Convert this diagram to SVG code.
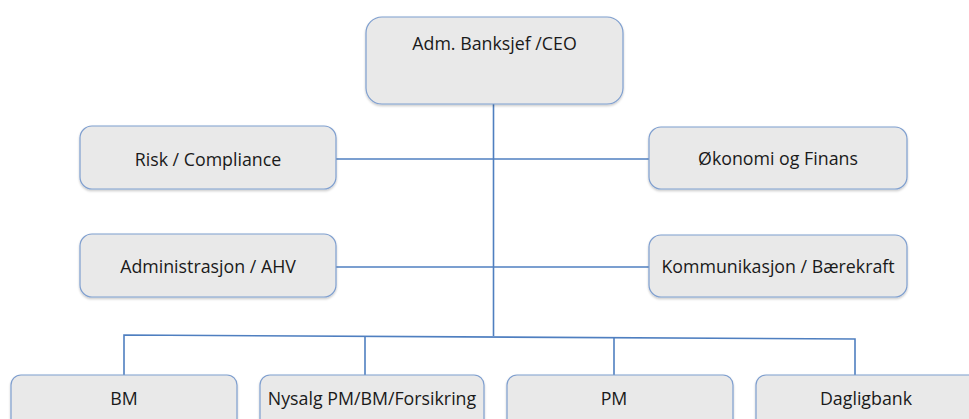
<svg xmlns="http://www.w3.org/2000/svg" width="969" height="419" viewBox="0 0 969 419">
<defs>
<filter id="sh" x="-5%" y="-5%" width="110%" height="120%">
<feDropShadow dx="0" dy="1.5" stdDeviation="1" flood-color="#000" flood-opacity="0.22"/>
</filter>
</defs>
<style>
.box{fill:#e9e9e9;stroke:#7f9fcf;stroke-width:1.2;filter:url(#sh)}
.lbl{font-family:"Open Sans","Liberation Sans",Arial,sans-serif;font-size:17.8px;fill:#1a1a1a;text-anchor:middle;dominant-baseline:central}
.ln{stroke:#4f7fc0;stroke-width:1.6;fill:none}
</style>
<rect width="969" height="419" fill="#fff"/>
<g id="connectors">
<path class="ln" d="M493.5 104 V336"/>
<path class="ln" d="M336 159 H649"/>
<path class="ln" d="M336 267 H649"/>
<path class="ln" d="M124 375 V335 L855 339 V375"/>
<path class="ln" d="M365 375 V336"/>
<path class="ln" d="M614 375 V338"/>
</g>
<g id="ceo"><rect class="box" x="366" y="17" width="257" height="87" rx="16"/><text class="lbl" x="494.5" y="43">Adm. Banksjef /CEO</text></g>
<g id="risk"><rect class="box" x="80" y="126" width="256" height="63" rx="12"/><text class="lbl" x="208" y="159">Risk / Compliance</text></g>
<g id="okonomi"><rect class="box" x="649" y="127" width="258" height="62" rx="12"/><text class="lbl" x="778" y="158">Økonomi og Finans</text></g>
<g id="admin"><rect class="box" x="80" y="234" width="256" height="63" rx="12"/><text class="lbl" x="208" y="266">Administrasjon / AHV</text></g>
<g id="kommunikasjon"><rect class="box" x="649" y="235" width="258" height="62" rx="12"/><text class="lbl" x="778" y="266">Kommunikasjon / Bærekraft</text></g>
<g id="bm"><rect class="box" x="11" y="375" width="226" height="60" rx="10"/><text class="lbl" x="124" y="398">BM</text></g>
<g id="nysalg"><rect class="box" x="260" y="375" width="224" height="60" rx="10"/><text class="lbl" x="372" y="398">Nysalg PM/BM/Forsikring</text></g>
<g id="pm"><rect class="box" x="507" y="375" width="226" height="60" rx="10"/><text class="lbl" x="614" y="398">PM</text></g>
<g id="dagligbank"><rect class="box" x="756" y="375" width="226" height="60" rx="10"/><text class="lbl" x="866" y="398">Dagligbank</text></g>
</svg>
